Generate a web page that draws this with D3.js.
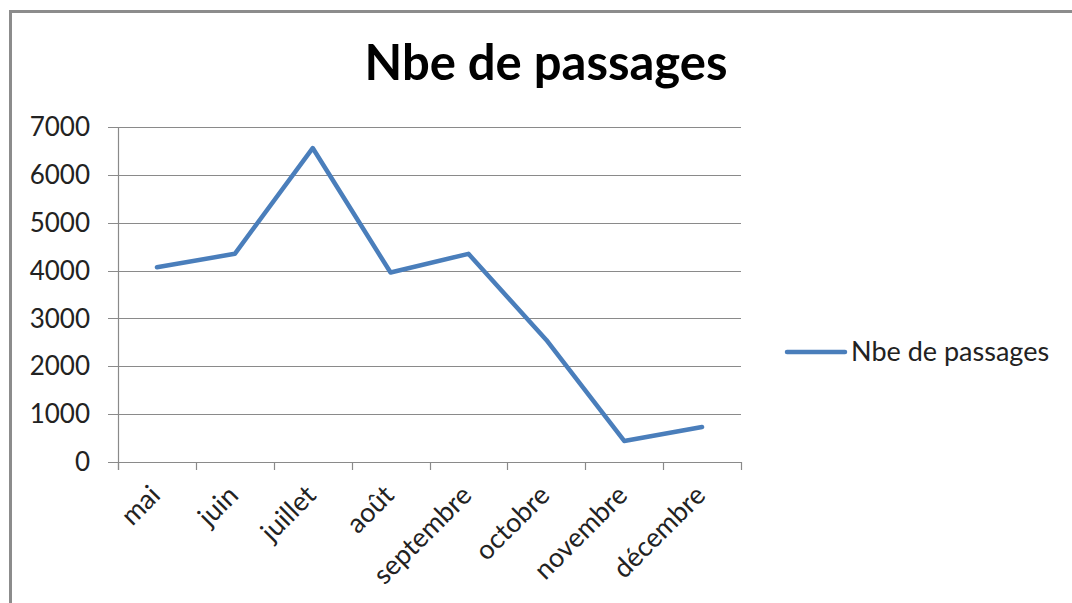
<!DOCTYPE html>
<html>
<head>
<meta charset="utf-8">
<script src="https://cdn.jsdelivr.net/npm/d3@7"></script>
<style>
  body { margin: 0; background: #fff; }
  svg { display: block; }
</style>
</head>
<body>
<svg width="1072" height="603"></svg>
<script>
var months = ["mai", "juin", "juillet", "août", "septembre", "octobre", "novembre", "décembre"];
var passages = [4070, 4350, 6560, 3960, 4350, 2550, 440, 730];
var yTicks = [0, 1000, 2000, 3000, 4000, 5000, 6000, 7000];
var seriesName = "Nbe de passages";
var title = "Nbe de passages";

var svg = d3.select("svg");
var font = "Lato, 'Open Sans', sans-serif";
var grey = "#8a8a8a";
var blue = "#4a7ebb";

// chart frame
svg.append("rect")
    .attr("x", 10.5).attr("y", 11.5)
    .attr("width", 1100).attr("height", 700)
    .attr("fill", "#fff")
    .attr("stroke", "#8c8c8c")
    .attr("stroke-width", 3);

var plotLeft = 118, plotRight = 741, plotTop = 127, plotBottom = 462;

var x = d3.scaleBand()
    .domain(months)
    .range([plotLeft, plotRight]);

var y = d3.scaleLinear()
    .domain([0, 7000])
    .range([plotBottom, plotTop]);

// gridlines
svg.append("g").selectAll("line")
  .data(yTicks)
  .enter().append("line")
    .attr("x1", plotLeft - 10).attr("x2", plotRight)
    .attr("y1", function(d) { return Math.round(y(d)) + 0.5; })
    .attr("y2", function(d) { return Math.round(y(d)) + 0.5; })
    .attr("stroke", grey)
    .attr("stroke-width", 1.2);

// y axis line
svg.append("line")
    .attr("x1", plotLeft + 0.5).attr("x2", plotLeft + 0.5)
    .attr("y1", plotTop).attr("y2", plotBottom + 8)
    .attr("stroke", grey).attr("stroke-width", 1.2);

// x ticks on band edges
var edges = months.map(function(m) { return x(m); }).concat([x(months[months.length - 1]) + x.bandwidth()]);
svg.append("g").selectAll("line")
  .data(edges)
  .enter().append("line")
    .attr("x1", function(d) { return Math.round(d) + 0.5; })
    .attr("x2", function(d) { return Math.round(d) + 0.5; })
    .attr("y1", plotBottom).attr("y2", plotBottom + 8)
    .attr("stroke", grey).attr("stroke-width", 1.2);

// y labels
svg.append("g").selectAll("text")
  .data(yTicks)
  .enter().append("text")
    .attr("x", 90)
    .attr("y", function(d) { return y(d); })
    .attr("dy", "0.35em")
    .attr("text-anchor", "end")
    .style("font-family", font)
    .style("font-size", "26px")
    .style("fill", "#222")
    .text(function(d) { return d; });

// x labels
svg.append("g").selectAll("text")
  .data(months)
  .enter().append("text")
    .attr("transform", function(d) {
      var cx = x(d) + x.bandwidth() / 2 + 5;
      return "translate(" + cx + ",497) rotate(-45)";
    })
    .attr("text-anchor", "end")
    .style("font-family", font)
    .style("font-size", "27px")
    .style("fill", "#222")
    .text(function(d) { return d; });

// series line
var line = d3.line()
    .x(function(d, i) { return x(months[i]) + x.bandwidth() / 2; })
    .y(function(d) { return y(d); });

svg.append("path")
    .datum(passages)
    .attr("d", line)
    .attr("fill", "none")
    .attr("stroke", blue)
    .attr("stroke-width", 4.5)
    .attr("stroke-linejoin", "round")
    .attr("stroke-linecap", "round");

// title
svg.append("text")
    .attr("x", 546)
    .attr("y", 80)
    .attr("text-anchor", "middle")
    .style("font-family", font)
    .style("font-weight", "bold")
    .style("font-size", "49px")
    .style("fill", "#000")
    .text(title);

// legend
svg.append("line")
    .attr("x1", 787).attr("x2", 845)
    .attr("y1", 352).attr("y2", 352)
    .attr("stroke", blue)
    .attr("stroke-width", 4.5)
    .attr("stroke-linecap", "round");

svg.append("text")
    .attr("x", 851)
    .attr("y", 352)
    .attr("dy", "0.35em")
    .style("font-family", font)
    .style("font-size", "27px")
    .style("fill", "#222")
    .text(seriesName);
</script>
</body>
</html>
